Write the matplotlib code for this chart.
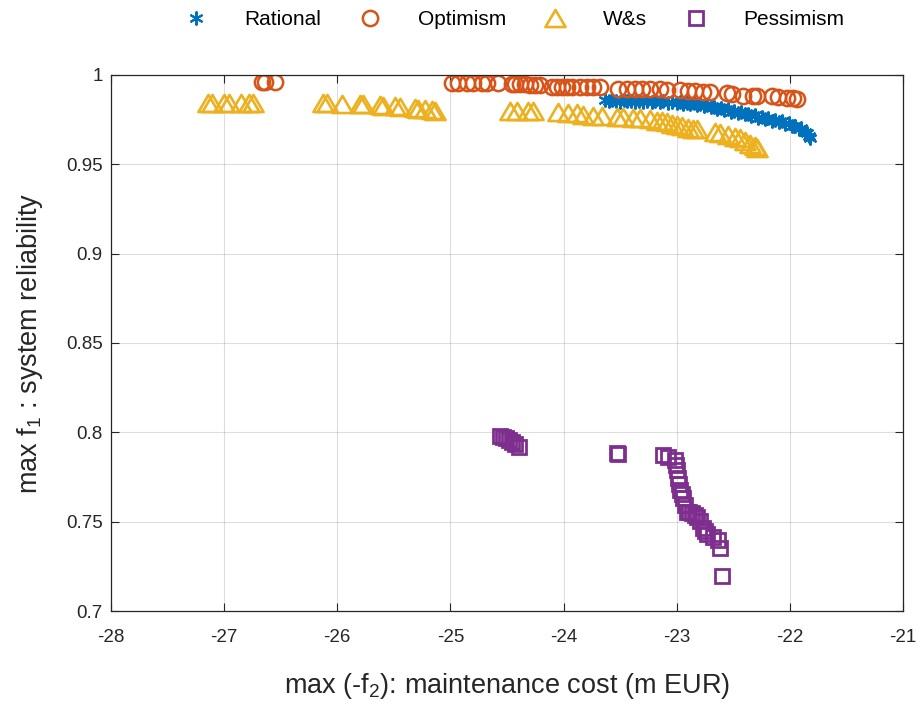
import matplotlib
matplotlib.use("Agg")
import matplotlib.pyplot as plt
from matplotlib.path import Path
from matplotlib.ticker import FixedLocator, FuncFormatter

plt.rcParams['font.family'] = ['Liberation Sans', 'DejaVu Sans']
plt.rcParams['mathtext.fontset'] = 'custom'
plt.rcParams['mathtext.rm'] = 'Liberation Sans'
plt.rcParams['mathtext.it'] = 'Liberation Sans:italic'
plt.rcParams['axes.unicode_minus'] = False

# Pareto fronts: x = -f2 (maintenance cost, m EUR), y = f1 (system reliability)
rational_x = [-23.63, -23.60, -23.57, -23.54, -23.50, -23.47, -23.44, -23.40, -23.37, -23.33,
              -23.30, -23.26, -23.22, -23.19, -23.15, -23.12, -23.08, -23.04, -23.00, -22.97,
              -22.94, -22.91, -22.88, -22.85, -22.82, -22.79, -22.76, -22.73, -22.70, -22.67,
              -22.64, -22.61, -22.58, -22.55, -22.52, -22.49, -22.46, -22.43, -22.40, -22.37,
              -22.34, -22.31, -22.28, -22.25, -22.22, -22.19, -22.16, -22.13, -22.10, -22.07,
              -22.04, -22.01, -21.98, -21.95, -21.92, -21.90, -21.87, -21.85, -21.83, -21.82]
rational_y = [0.9858, 0.9852, 0.9860, 0.9855, 0.9851, 0.9858, 0.9853, 0.9856, 0.9850, 0.9855,
              0.9849, 0.9854, 0.9848, 0.9853, 0.9847, 0.9852, 0.9845, 0.9850, 0.9843, 0.9848,
              0.9840, 0.9845, 0.9836, 0.9841, 0.9831, 0.9836, 0.9825, 0.9830, 0.9818, 0.9823,
              0.9810, 0.9816, 0.9803, 0.9808, 0.9795, 0.9800, 0.9787, 0.9792, 0.9779, 0.9784,
              0.9770, 0.9776, 0.9762, 0.9767, 0.9754, 0.9758, 0.9745, 0.9749, 0.9735, 0.9740,
              0.9725, 0.9729, 0.9713, 0.9717, 0.9698, 0.9703, 0.9682, 0.9674, 0.9660, 0.9650]

optimism_x = [-26.665, -26.639, -26.550,
              -24.986, -24.933, -24.853, -24.800, -24.721, -24.677, -24.579, -24.456, -24.429,
              -24.385, -24.341, -24.297, -24.252, -24.208, -24.102, -24.058, -24.014, -23.970,
              -23.925, -23.855, -23.793, -23.740, -23.678, -23.519, -23.439, -23.369, -23.307,
              -23.236, -23.148, -23.086, -22.971, -22.900, -22.838, -22.767, -22.706, -22.556,
              -22.511, -22.414, -22.326, -22.290, -22.158, -22.105, -22.025, -21.972, -21.936]
optimism_y = [0.9961, 0.9961, 0.9961,
              0.9955, 0.9955, 0.9955, 0.9955, 0.9955, 0.9955, 0.9955, 0.9950, 0.9947,
              0.9947, 0.9947, 0.9945, 0.9945, 0.9945, 0.9935, 0.9935, 0.9933, 0.9933,
              0.9930, 0.9930, 0.9930, 0.9930, 0.9930, 0.9922, 0.9922, 0.9922, 0.9922,
              0.9920, 0.9920, 0.9918, 0.9915, 0.9913, 0.9910, 0.9905, 0.9905, 0.9897,
              0.9895, 0.9885, 0.9883, 0.9882, 0.9880, 0.9877, 0.9873, 0.9870, 0.9868]

ws_x = [-27.143, -27.107, -27.001, -26.957, -26.851, -26.780, -26.745,
        -26.126, -26.091, -25.958, -25.799, -25.773, -25.622, -25.596, -25.490, -25.446,
        -25.313, -25.287, -25.225, -25.163, -25.136,
        -24.473, -24.411, -24.314, -24.270, -24.049, -23.961,
        -23.881, -23.828, -23.740, -23.660, -23.528, -23.475, -23.386, -23.324, -23.236,
        -23.174, -23.130, -23.086, -23.040, -22.997, -22.953, -22.900, -22.856, -22.820,
        -22.661, -22.617, -22.546, -22.485, -22.440, -22.396, -22.352, -22.308, -22.290]
ws_y = [0.9845, 0.9845, 0.9845, 0.9845, 0.9845, 0.9845, 0.9845,
        0.9845, 0.9845, 0.9840, 0.9838, 0.9835, 0.9830, 0.9828, 0.9825, 0.9822,
        0.9815, 0.9812, 0.9810, 0.9805, 0.9800,
        0.9796, 0.9796, 0.9796, 0.9796, 0.9790, 0.9788,
        0.9785, 0.9778, 0.9772, 0.9768, 0.9765, 0.9763, 0.9762, 0.9760, 0.9755,
        0.9745, 0.9740, 0.9735, 0.9728, 0.9720, 0.9712, 0.9705, 0.9700, 0.9695,
        0.9680, 0.9675, 0.9665, 0.9655, 0.9645, 0.9630, 0.9615, 0.9600, 0.9590]

pessimism_x = [-24.562, -24.535, -24.509, -24.482, -24.456, -24.429, -24.394,
               -23.528, -23.515,
               -23.121, -23.077, -23.015, -23.005, -22.997, -22.990, -22.980, -22.971,
               -22.955, -22.944, -22.927, -22.909, -22.890, -22.865, -22.840, -22.821,
               -22.794, -22.768, -22.750, -22.732, -22.679, -22.635, -22.617, -22.600]
pessimism_y = [0.7980, 0.7974, 0.7968, 0.7957, 0.7946, 0.7935, 0.7918,
               0.7884, 0.7880,
               0.7873, 0.7862, 0.7845, 0.7815, 0.7789, 0.7744, 0.7710, 0.7677,
               0.7655, 0.7632, 0.7593, 0.7554, 0.7552, 0.7549, 0.7538, 0.7526,
               0.7504, 0.7465, 0.7448, 0.7431, 0.7414, 0.7397, 0.7353, 0.7196]

series_names = ['Rational', 'Optimism', 'W&s', 'Pessimism']
x_ticks = [-28, -27, -26, -25, -24, -23, -22, -21]
y_ticks = [0.7, 0.75, 0.8, 0.85, 0.9, 0.95, 1.0]

colors = ['#0072BD', '#D95319', '#EDB120', '#7E2F8E']
axis_gray = '#262626'

# triangle outline, slightly wider than tall
tri = Path([(-1.0, -0.85), (1.0, -0.85), (0.0, 0.85), (-1.0, -0.85)],
           [Path.MOVETO, Path.LINETO, Path.LINETO, Path.CLOSEPOLY])

fig = plt.figure(figsize=(9.17, 7.04), dpi=100)
ax = fig.add_axes([0.1210, 0.1321, 0.8637, 0.7614])

common = dict(linestyle='none', markerfacecolor='none')
ax.plot(rational_x, rational_y, marker=(6, 2, 0), markersize=10, markeredgewidth=1.5,
        color=colors[0], label=series_names[0], **common)
ax.plot(optimism_x, optimism_y, marker='o', markersize=11, markeredgewidth=1.8,
        color=colors[1], label=series_names[1], **common)
ax.plot(ws_x, ws_y, marker=tri, markersize=14.5, markeredgewidth=1.9,
        color=colors[2], label=series_names[2], **common)
ax.plot(pessimism_x, pessimism_y, marker='s', markersize=9.5, markeredgewidth=2.0,
        color=colors[3], label=series_names[3], **common)

ax.set_xlim(-28, -21)
ax.set_ylim(0.7, 1.0)
ax.xaxis.set_major_locator(FixedLocator(x_ticks))
ax.yaxis.set_major_locator(FixedLocator(y_ticks))
ax.xaxis.set_major_formatter(FuncFormatter(lambda v, p: '%g' % v))
ax.yaxis.set_major_formatter(FuncFormatter(lambda v, p: '%g' % v))

ax.grid(True, color='#262626', alpha=0.15, linewidth=0.8)
ax.set_axisbelow(True)
for s in ax.spines.values():
    s.set_color(axis_gray)
    s.set_linewidth(0.9)
ax.tick_params(which='both', direction='in', length=6, width=0.8, colors=axis_gray,
               labelsize=13.5, top=True, right=True)
ax.tick_params(axis='x', pad=13)
ax.tick_params(axis='y', pad=6)
for lbl in ax.get_xticklabels() + ax.get_yticklabels():
    lbl.set_color(axis_gray)

ax.set_xlabel('max (-f$_2$): maintenance cost (m EUR)', fontsize=19.5, color=axis_gray, labelpad=18)
ax.set_ylabel('max f$_1$ : system reliability', fontsize=19.5, color=axis_gray, labelpad=15)

fig.legend(loc='upper center', bbox_to_anchor=(0.556, 1.012), ncol=4, frameon=False,
           fontsize=15, handlelength=2.0, handletextpad=1.3, columnspacing=1.35,
           numpoints=1)

fig.savefig('out.png', dpi=100)
